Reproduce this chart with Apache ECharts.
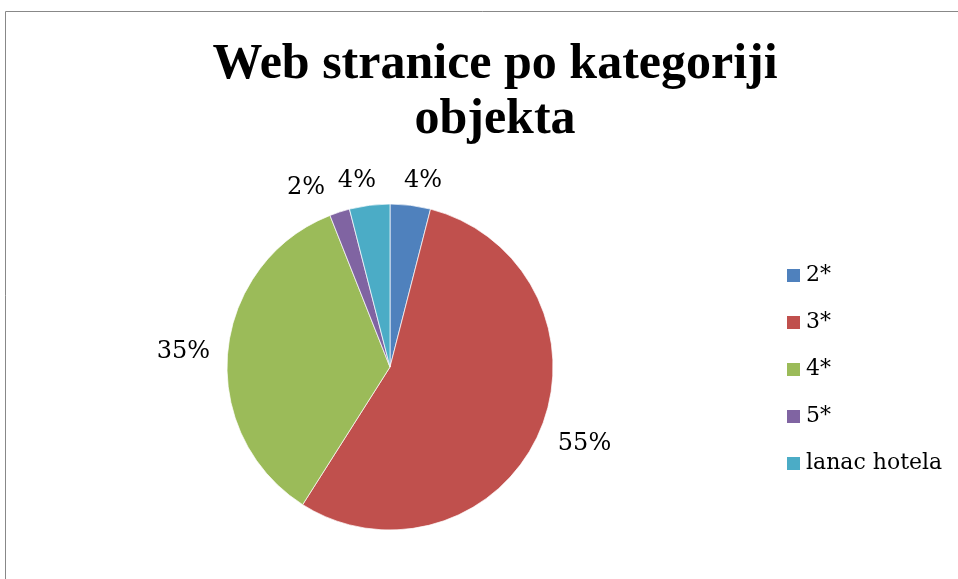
<!DOCTYPE html>
<html><head><meta charset="utf-8">
<script src="https://cdn.jsdelivr.net/npm/echarts@6/dist/echarts.min.js"></script>
<style>html,body{margin:0;padding:0;background:#fff}#c{width:958px;height:579px}</style>
</head><body><div id="c"></div>
<script>
var titleText = 'Web stranice po kategoriji\nobjekta';
var categories = ['2*', '3*', '4*', '5*', 'lanac hotela'];
var values = [4, 55, 35, 2, 4];
var colors = ['#4F81BD', '#C0504D', '#9BBB59', '#8064A2', '#4BACC6'];
// per-slice label placement (style only)
var labelLen = [25, 29.7, 2, 25.2, 25];
var labelDist = [-9.5, -9, 15.7, 6.8, -9.5];

var chart = echarts.init(document.getElementById('c'));
var titleFont = '"Liberation Serif", "DejaVu Serif", serif';
var font = '"DejaVu Serif", "Liberation Serif", serif';
chart.setOption({
  animation: false,
  color: colors,
  graphic: [{
    type: 'rect', silent: true,
    shape: {x: 5.5, y: 11.5, width: 1200, height: 1000},
    style: {fill: 'none', stroke: '#888888', lineWidth: 1}
  }],
  title: {
    text: titleText, left: 490, top: 33, textAlign: 'center',
    textStyle: {fontFamily: titleFont, fontWeight: 'bold', fontSize: 50, lineHeight: 55, color: '#000'}
  },
  legend: {
    orient: 'vertical', left: 785, top: 263.5, padding: 0,
    itemWidth: 15, itemHeight: 15, itemGap: 23, icon: 'rect',
    textStyle: {fontFamily: font, fontSize: 22, lineHeight: 24, color: '#000'},
    data: categories
  },
  series: [{
    type: 'pie', center: [390, 367], radius: 163, startAngle: 90, clockwise: true,
    avoidLabelOverlap: false,
    itemStyle: {borderColor: '#fff', borderWidth: 0.7},
    label: {show: true, position: 'outside', formatter: '{d}%', fontFamily: font, fontSize: 24, color: '#000'},
    labelLine: {show: false, length2: 0},
    data: categories.map(function (c, i) {
      return {name: c, value: values[i], labelLine: {length: labelLen[i]},
              label: {distanceToLabelLine: labelDist[i]}};
    })
  }]
});
</script></body></html>
